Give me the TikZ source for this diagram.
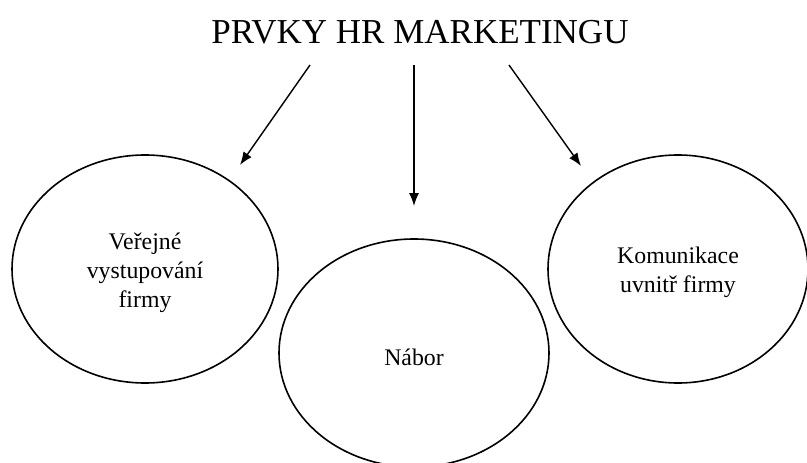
\documentclass[tikz,border=0pt]{standalone}
\usepackage{fontspec}
\setmainfont{Liberation Serif}
\usetikzlibrary{shapes.geometric,arrows.meta}
\begin{document}
\begin{tikzpicture}[x=1pt,y=-1pt,
  bubble/.style={draw, ellipse, line width=1.6pt, inner sep=0pt,
    align=center, font=\fontsize{23.8}{29}\selectfont},
  arr/.style={line width=1.4pt, -{Latex[length=13pt,width=10pt]}}]
  \useasboundingbox (0,0) rectangle (807,463);
  % heading
  \node[font=\fontsize{35}{40}\selectfont, anchor=base] (title) at (420,43) {PRVKY HR MARKETINGU};
  % the three elements
  \node[bubble, minimum width=266pt, minimum height=228pt] (verej) at (145,269) {};
  \node[bubble, minimum width=270pt, minimum height=228pt] (nabor) at (414,353) {};
  \node[bubble, minimum width=260pt, minimum height=228pt] (komun) at (678,269) {};
  % their captions
  \node[bubble, draw=none] (verejtext) at ([yshift=-4pt]verej.center) {Veřejné\\vystupování\\firmy};
  \node[bubble, draw=none] (nabortext) at ([yshift=-4pt]nabor.center) {Nábor};
  \node[bubble, draw=none] (komuntext) at ([yshift=-3pt]komun.center) {Komunikace\\uvnitř firmy};
  % arrow ends
  \coordinate (s1) at (310,65);
  \coordinate (e1) at (240,165);
  \coordinate (s2) at (414,65);
  \coordinate (e2) at (414,206);
  \coordinate (s3) at (509,65);
  \coordinate (e3) at (581,166);
  \draw[arr] (s1) -- (e1);
  \draw[arr] (s2) -- (e2);
  \draw[arr] (s3) -- (e3);
\end{tikzpicture}
\end{document}
